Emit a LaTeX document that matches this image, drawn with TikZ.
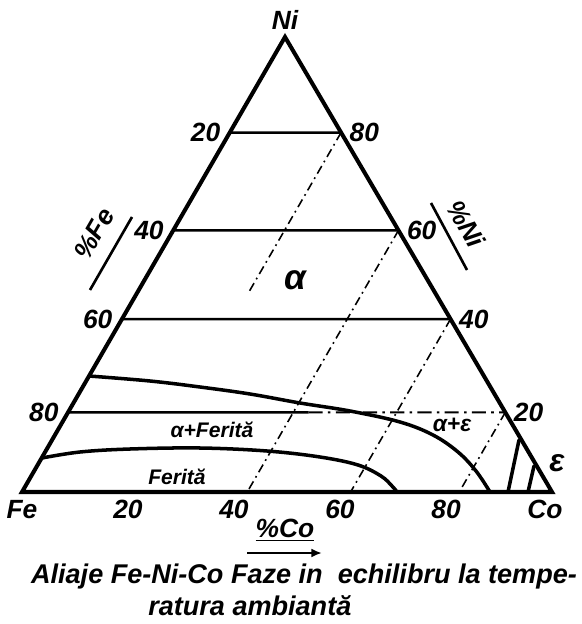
\documentclass[tikz,border=0pt]{standalone}
\usepackage{fontspec}
\setmainfont{Liberation Sans}
\usetikzlibrary{arrows.meta, positioning, calc}

\begin{document}
\begin{tikzpicture}[x=0.02cm, y=-0.02cm,
    >={Latex[length=6pt, width=5pt]},
    lbl/.style={font=\fontsize{15}{18}\selectfont\bfseries\itshape, inner sep=1pt},
    phase/.style={font=\fontsize{12}{14}\selectfont\bfseries\itshape, inner sep=1pt},
    capt/.style={font=\fontsize{15.4}{18}\selectfont\bfseries\itshape, inner sep=0pt},
    side/.style={line width=2.3pt},
    tieline/.style={line width=1.4pt},
    bound/.style={line width=2pt, line cap=round},
    isoco/.style={line width=0.9pt, dash pattern=on 5pt off 2.5pt on 1pt off 2.5pt}]
    \useasboundingbox (0,0) rectangle (581,624);
    \coordinate (Fe) at (22,492);
    \coordinate (Co) at (552,492);
    \coordinate (Ni) at (285,37);
    \foreach \n/\k in {0.79/1, 0.575/2, 0.38/3, 0.175/4} {
      \coordinate (a\k) at ($(Fe)!\n!(Ni)$);
      \coordinate (b\k) at ($(Co)!\n!(Ni)$);
      \coordinate (e\k) at ($(Co)!\n!(Fe)$);
    }
    \coordinate (m4) at ($(a4)!0.55!(b4)$);
    % lines of constant Ni and Co
    \draw[tieline] (a1) -- (b1) (a2) -- (b2) (a3) -- (b3) (a4) -- (m4);
    \draw[line width=1.1pt, dash pattern=on 8pt off 3pt on 1.5pt off 3pt] (m4) -- (b4);
    \draw[isoco] (b1) -- ($(b1)!0.45!(e1)$);
    \draw[isoco] (b2) -- (e2);
    \draw[isoco] (b3) -- (e3);
    \draw[isoco] (b4) -- (e4);
    \draw[side] (Fe) -- (Co) -- (Ni) -- cycle;
    % phase boundaries
    \draw[bound] plot[smooth, tension=0.6] coordinates {(89,376) (150,381) (200,387)
      (250,394) (300,403) (350,411) (400,422) (433,435) (458,452) (476,471) (490,492)};
    \draw[bound] plot[smooth, tension=0.6] coordinates {(42,458) (80,452) (130,449)
      (200,448) (267,451) (320,457) (358,465) (381,476) (392,486) (397,492)};
    \draw[bound] (519,440) -- (508,492);
    \draw[bound] (534,466) -- (528,492);
    % corners and scales
    \node[lbl, above=1mm of Ni] (lni) {Ni};
    \node[lbl, below=1.2mm of Fe] (lfe) {Fe};
    \node[lbl, below=1.2mm of Co, xshift=-4pt] (lco) {Co};
    \node[lbl, left=1.5mm of a1] (fe20) {20};
    \node[lbl, left=1.5mm of a2] (fe40) {40};
    \node[lbl, left=1.5mm of a3] (fe60) {60};
    \node[lbl, left=1.5mm of a4] (fe80) {80};
    \node[lbl, right=1.3mm of b1] (ni80) {80};
    \node[lbl, right=1.3mm of b2] (ni60) {60};
    \node[lbl, right=1.3mm of b3] (ni40) {40};
    \node[lbl, right=1.3mm of b4] (ni20) {20};
    \foreach \c in {20,40,60,80} {
      \coordinate (t\c) at ($(Fe)!\c/100!(Co)$);
      \node[lbl, below=1.2mm of t\c] (co\c) {\c};
    }
    \node[lbl, rotate=60] (pfe) at (94,234) {\%Fe};
    \coordinate (fa) at (132,217);
    \coordinate (fb) at (90,290);
    \draw[line width=1.5pt] (fa) -- (fb);
    \node[lbl, rotate=-60] (pni) at (466,224) {\%Ni};
    \coordinate (na) at (431,203);
    \coordinate (nb) at (467,270);
    \draw[line width=1.5pt] (na) -- (nb);
    \node[lbl] (pco) at (285,530) {\underline{\%Co}};
    \coordinate (ca) at (247,553);
    \coordinate (cb) at (322,553);
    \draw[line width=1.7pt, ->] (ca) -- (cb);
    % phases
    \node[font=\fontsize{20}{22}\selectfont\bfseries\itshape] (alpha) at (295,280) {α};
    \node[phase] (aferr) at (212,430) {α+Ferită};
    \node[phase] (ferr) at (177,477) {Ferită};
    \node[phase, font=\fontsize{13}{15}\selectfont\bfseries\itshape] (aeps) at (452,425) {α+ε};
    \node[font=\fontsize{18}{20}\selectfont\bfseries\itshape] (eps) at (557,463) {ε};
    % caption
    \node[capt] (cap1) at (304,576) {Aliaje Fe-Ni-Co Faze in\ \ echilibru la tempe-};
    \node[capt, anchor=west] (cap2) at (148,606) {ratura ambiantă};
\end{tikzpicture}
\end{document}
